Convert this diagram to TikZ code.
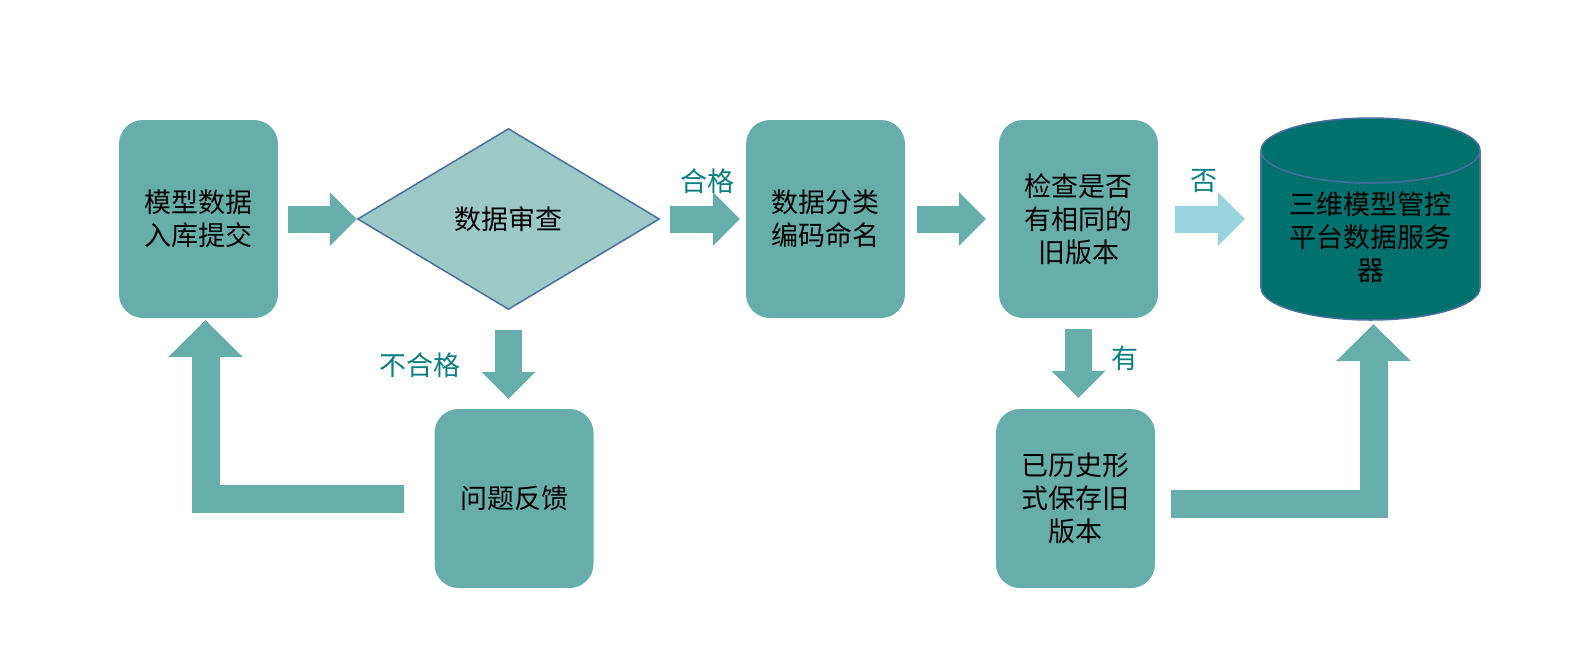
\documentclass[tikz,border=0pt]{standalone}
\usepackage{fontspec}
\setmainfont{Noto Sans CJK SC}
\usetikzlibrary{shapes.geometric,arrows.meta}
\definecolor{boxc}{HTML}{67ADA9}
\definecolor{diamc}{HTML}{9CC8C6}
\definecolor{edgec}{HTML}{4A6FA0}
\definecolor{cylc}{HTML}{00716D}
\definecolor{lightc}{HTML}{99D3DD}
\definecolor{lblc}{HTML}{0B7F80}
\tikzset{
  every node/.style={font=\fontsize{27}{33}\selectfont},
  stepbox/.style={fill=boxc, rounded corners=24pt, minimum width=159pt, minimum height=198pt, align=center, inner sep=0pt},
  lowbox/.style={stepbox, minimum height=179pt},
  lbl/.style={text=lblc, inner sep=0pt},
  fat/.style={draw=boxc, line width=27pt, -{Triangle[width=54pt,length=27pt,line width=0pt]}},
  fatL/.style={draw=boxc, line width=28pt, -{Triangle[width=75pt,length=37pt,line width=0pt]}}
}
\begin{document}
\begin{tikzpicture}[x=1pt,y=-1pt]
\useasboundingbox (0,0) rectangle (1594,649);

% server cylinder
\filldraw[fill=cylc, draw=edgec, line width=1.5pt] (1370.5,287.5) ellipse [x radius=109.5, y radius=32.5];
\fill[cylc] (1261,150.5) rectangle (1480,287.5);
\draw[edgec, line width=1.5pt] (1261,150.5) -- (1261,287.5);
\draw[edgec, line width=1.5pt] (1480,150.5) -- (1480,287.5);
\filldraw[fill=cylc, draw=edgec, line width=1.5pt] (1370.5,150.5) ellipse [x radius=109.5, y radius=32.5];

\node[stepbox] (submit) at (198.5,219) {模型数据\\入库提交};
\node[diamond, fill=diamc, draw=edgec, line width=1.5pt, minimum width=302pt, minimum height=181pt, inner sep=0pt] (check) at (508.5,219) {数据审查};
\node[stepbox] (code) at (825.5,219) {数据分类\\编码命名};
\node[stepbox] (same) at (1078.5,219) {检查是否\\有相同的\\旧版本};
\node[align=center, minimum width=219pt, minimum height=165pt, inner sep=0pt] (srv) at (1370.5,237.5) {三维模型管控\\平台数据服务\\器};
\node[lowbox] (back) at (514,498.5) {问题反馈};
\node[lowbox] (old) at (1075.5,498.5) {已历史形\\式保存旧\\版本};

\node[lbl] (pass) at (707,181) {合格};
\node[lbl] (fail) at (420,365) {不合格};
\node[lbl] (no) at (1204,181) {否};
\node[lbl] (yes) at (1125,358) {有};

\draw[fat, shorten <=10pt] (submit.east) -- (check.west);
\draw[fat, shorten <=10pt, shorten >=6pt] (check.east) -- (code.west);
\draw[fat, shorten <=12pt, shorten >=13pt] (code.east) -- (same.west);
\draw[fat, draw=lightc, shorten <=17pt, shorten >=16pt] (same.east) -- (same.east -| srv.west);
\draw[fat, shorten <=20pt, shorten >=10pt] (check.south) -- (check.south |- back.north);
\draw[fat, shorten <=11pt, shorten >=11pt] (same.south) -- (same.south |- old.north);
\draw[fatL, shorten <=30pt, shorten >=2pt] (back.west) -| ([xshift=7pt]submit.south);
\draw[fatL, shorten <=16pt, shorten >=4pt] ([yshift=-5pt]old.east) -| ([xshift=3pt]srv.south);

\end{tikzpicture}
\end{document}
